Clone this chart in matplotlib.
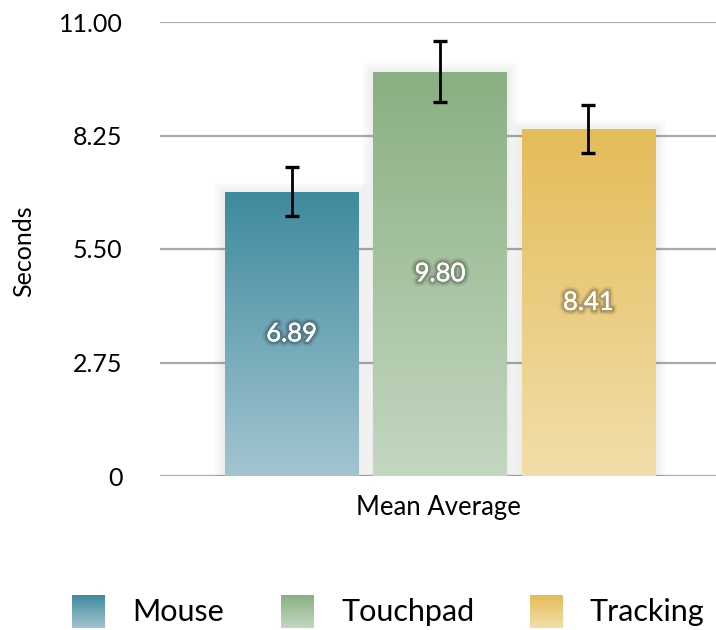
import matplotlib.pyplot as plt
import numpy as np
from matplotlib import patheffects as pe
from matplotlib.colors import LinearSegmentedColormap
from matplotlib.patches import Rectangle

plt.rcParams['font.family'] = ['Lato', 'DejaVu Sans']

labels = ['Mouse', 'Touchpad', 'Tracking']
values = [6.89, 9.80, 8.41]
errors = [0.60, 0.75, 0.58]
top_colors = ['#3e8a9e', '#8aaf82', '#e4bc58']
bottom_colors = ['#a3c5d0', '#c4d7c1', '#f2deaa']
yticks = [0, 2.75, 5.50, 8.25, 11.00]
ytick_labels = ['0', '2.75', '5.50', '8.25', '11.00']

W, H = 716, 630
fig = plt.figure(figsize=(W / 100, H / 100), dpi=100)
ax = fig.add_axes([160 / W, 1 - 476 / H, 556 / W, 454 / H])

x = np.arange(len(values))
bars = ax.bar(x, values, width=0.9, color='none', edgecolor='none', zorder=3)

grad = np.linspace(0, 1, 256).reshape(-1, 1)
for b, c0, c1 in zip(bars, top_colors, bottom_colors):
    x0, y0 = b.get_x(), b.get_y()
    w, h = b.get_width(), b.get_height()
    # soft shadow round the bar
    for k in range(1, 7):
        dx = 0.012 * k
        dy = 0.045 * k
        ax.add_patch(Rectangle((x0 - dx, y0 - dy - 0.05), w + 2 * dx, h + 2 * dy,
                               facecolor='black', edgecolor='none', alpha=0.012, zorder=2.5))
    cmap = LinearSegmentedColormap.from_list('g', [c1, c0])
    im = ax.imshow(grad, cmap=cmap, extent=[x0, x0 + w, y0, y0 + h],
                   origin='lower', aspect='auto', zorder=3)
    im.set_clip_path(b)

ax.errorbar(x, values, yerr=errors, fmt='none', ecolor='black',
            elinewidth=2, capsize=5, capthick=2.4, zorder=4)

glow = [pe.withStroke(linewidth=7, foreground=(0, 0, 0, 0.08)),
        pe.withStroke(linewidth=4, foreground=(0, 0, 0, 0.18)),
        pe.Normal()]
for xi, v in zip(x, values):
    ax.text(xi, v / 2, f'{v:.2f}', ha='center', va='center', color='white',
            fontsize=18.5, path_effects=glow, zorder=5)

ax.set_xlim(-0.888, 2.86)
ax.set_ylim(0, 11)
ax.set_yticks(yticks)
ax.set_yticklabels(ytick_labels)
ax.set_xticks([])
ax.yaxis.grid(True, color='#aaaaaa', linewidth=1.6)
ax.set_axisbelow(True)
ax.tick_params(axis='y', length=0, pad=27, labelsize=18)
for s in ax.spines.values():
    s.set_visible(False)
ax.set_xlabel('Mean Average', fontsize=18.5, labelpad=14)
fig.text(24 / W, 1 - 251 / H, 'Seconds', rotation=90, ha='center', va='center', fontsize=18)

# legend
leg_x = [72, 281, 530]
for lx, lab, c0, c1 in zip(leg_x, labels, top_colors, bottom_colors):
    sax = fig.add_axes([lx / W, 1 - 628 / H, 33 / W, 33 / H])
    sax.imshow(grad, cmap=LinearSegmentedColormap.from_list('g', [c1, c0]),
               origin='lower', aspect='auto')
    sax.axis('off')
    fig.text((lx + 60) / W, 1 - 612 / H, lab, ha='left', va='center', fontsize=22)

fig.savefig('out.png', dpi=100)
